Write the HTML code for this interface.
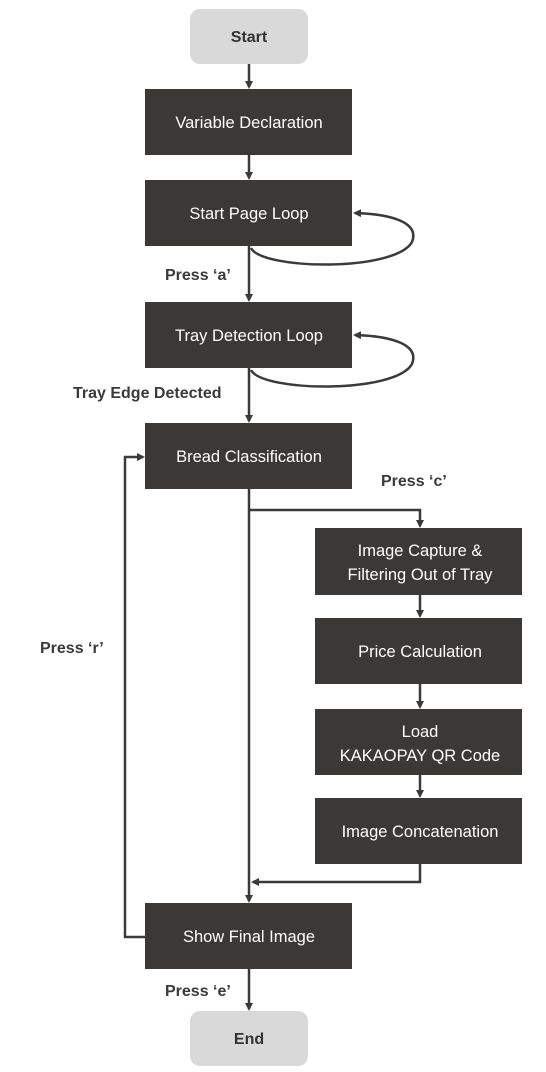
<!DOCTYPE html>
<html><head><meta charset="utf-8"><style>
html,body{margin:0;padding:0;background:#fff;}
svg{display:block;}
text{font-family:"Liberation Sans",sans-serif;}
.w{fill:#fff;font-size:16.5px;text-anchor:middle;}
.l{fill:#3a3a3a;font-size:16px;font-weight:bold;}
.ln{stroke:#3a3a3a;stroke-width:2.5;fill:none;}
</style></head><body>
<svg width="546" height="1072" viewBox="0 0 546 1072">
<defs><marker id="a" markerWidth="8" markerHeight="8" refX="6" refY="4" orient="auto" markerUnits="userSpaceOnUse"><path d="M0,0 L8,4 L0,8 z" fill="#3a3a3a"/></marker></defs>
<g class="ln">
<line x1="249" y1="64" x2="249" y2="87" marker-end="url(#a)"/>
<line x1="249" y1="155" x2="249" y2="178" marker-end="url(#a)"/>
<line x1="249" y1="246" x2="249" y2="300" marker-end="url(#a)"/>
<line x1="249" y1="368" x2="249" y2="421" marker-end="url(#a)"/>
<line x1="249" y1="489" x2="249" y2="901" marker-end="url(#a)"/>
<line x1="249" y1="969" x2="249" y2="1009" marker-end="url(#a)"/>
<path d="M251,248 C262,270 395,272 412,242 C420,222 390,214 355,213" marker-end="url(#a)"/>
<path d="M251,370 C262,392 395,394 412,364 C420,344 390,336 355,335" marker-end="url(#a)"/>
<path d="M249,510 H420 V526" marker-end="url(#a)"/>
<line x1="420" y1="595" x2="420" y2="616" marker-end="url(#a)"/>
<line x1="420" y1="684" x2="420" y2="707" marker-end="url(#a)"/>
<line x1="420" y1="775" x2="420" y2="796" marker-end="url(#a)"/>
<path d="M420,864 V882 H253" marker-end="url(#a)"/>
<path d="M145,937 H125 V457 H143" marker-end="url(#a)"/>
</g>
<rect x="190" y="9" width="118" height="55" rx="10" fill="#d9d9d9"/>
<text x="249" y="42" text-anchor="middle" style="font-size:16px;font-weight:bold;fill:#333">Start</text>
<rect x="190" y="1011" width="118" height="55" rx="10" fill="#d9d9d9"/>
<text x="249" y="1044" text-anchor="middle" style="font-size:16px;font-weight:bold;fill:#333">End</text>
<g fill="#3b3836">
<rect x="145" y="89" width="207" height="66"/>
<rect x="145" y="180" width="207" height="66"/>
<rect x="145" y="302" width="207" height="66"/>
<rect x="145" y="423" width="207" height="66"/>
<rect x="145" y="903" width="207" height="66"/>
<rect x="315" y="528" width="207" height="67"/>
<rect x="315" y="618" width="207" height="66"/>
<rect x="315" y="709" width="207" height="66"/>
<rect x="315" y="798" width="207" height="66"/>
</g>
<text class="w" x="249" y="128">Variable Declaration</text>
<text class="w" x="249" y="219">Start Page Loop</text>
<text class="w" x="249" y="341">Tray Detection Loop</text>
<text class="w" x="249" y="462">Bread Classification</text>
<text class="w" x="249" y="942">Show Final Image</text>
<text class="w" x="420" y="556">Image Capture &amp;</text>
<text class="w" x="420" y="580">Filtering Out of Tray</text>
<text class="w" x="420" y="657">Price Calculation</text>
<text class="w" x="420" y="737">Load</text>
<text class="w" x="420" y="761">KAKAOPAY QR Code</text>
<text class="w" x="420" y="837">Image Concatenation</text>
<text class="l" x="165" y="280">Press ‘a’</text>
<text class="l" x="73" y="398">Tray Edge Detected</text>
<text class="l" x="381" y="486">Press ‘c’</text>
<text class="l" x="40" y="653">Press ‘r’</text>
<text class="l" x="165" y="996">Press ‘e’</text>
</svg>
</body></html>
